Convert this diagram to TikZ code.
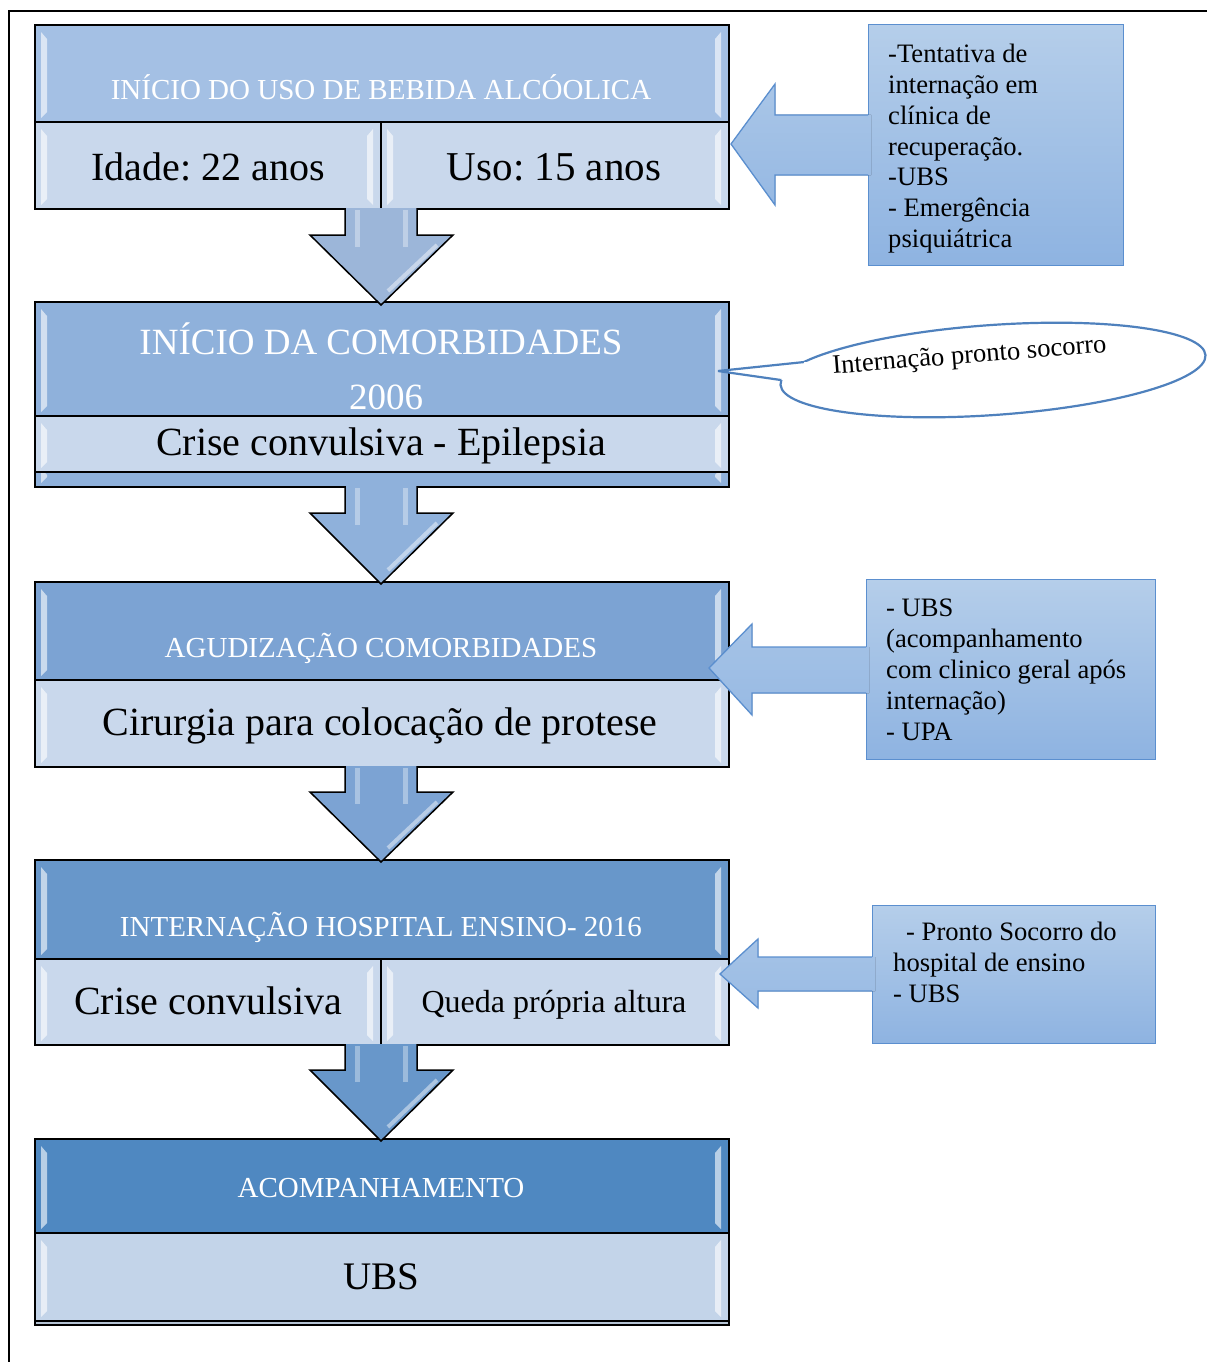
\documentclass[tikz,border=0pt]{standalone}
\usepackage{fontspec}
\setmainfont{Liberation Serif}
\usetikzlibrary{calc}
\frenchspacing
\definecolor{hA}{HTML}{A4C0E4}
\definecolor{hB}{HTML}{8FB1DB}
\definecolor{hC}{HTML}{7CA3D3}
\definecolor{hD}{HTML}{6897CA}
\definecolor{hE}{HTML}{4F88C1}
\definecolor{lowc}{HTML}{C9D8EC}
\definecolor{lowe}{HTML}{C3D4E9}
\definecolor{sidetop}{HTML}{B5CEEA}
\definecolor{sidebot}{HTML}{8EB3E1}
\definecolor{sideline}{HTML}{5B8FCF}
\definecolor{callline}{HTML}{4F81BD}
\tikzset{
  cellbox/.style={draw=black, line width=1.6pt, inner sep=0pt, anchor=north west},
  hdrtext/.style={text=white, inner sep=0pt, anchor=base, font=\fontsize{29}{34}\selectfont},
  bigtext/.style={text=black, inner sep=0pt, anchor=base, font=\fontsize{40}{46}\selectfont},
  sidebox/.style={draw=sideline, line width=1.3pt, top color=sidetop, bottom color=sidebot, inner sep=0pt, anchor=north west},
  sidetext/.style={text=black, inner sep=0pt, anchor=north west, align=left, font=\fontsize{26.6}{30.8}\selectfont},
  hilite/.style={white, opacity=0.6},
  softlite/.style={white, opacity=0.35}
}
\newcommand\mycell[6]{%
  \node[cellbox, fill=#6, minimum width={#4-#2}, minimum height={#5-#3}] (#1) at (#2,#3) {};
  \fill[hilite] (#2+7,#3+8) -- (#2+13,#3+15) -- (#2+13,#5-9) -- (#2+7,#5-3) -- cycle;
  \fill[hilite] (#4-7,#3+8) -- (#4-13,#3+15) -- (#4-13,#5-9) -- (#4-7,#5-3) -- cycle;
}
% #1 top of shaft, #2 top of head, #3 tip, #4 colour
\newcommand\downblock[4]{%
  \draw[line width=1.5pt, fill=#4, line join=miter] (345,#1) -- (345,#2) -- (310,#2) -- (381,#3) -- (453,#2) -- (417,#2) -- (417,#1);
  \fill[softlite] (355,#1+2) rectangle (360,#2+12);
  \fill[softlite] (403,#1+2) rectangle (408,#2+12);
  \draw[white, opacity=0.45, line width=4pt] (437,#2+10) -- (388,#3-14);
}
\begin{document}
\begin{tikzpicture}[x=1pt,y=-1pt]
\useasboundingbox (0,0) rectangle (1207,1362);
\fill[white] (0,0) rectangle (1207,1362);
\draw[line width=2pt] (9,1362) -- (9,11) -- (1207,11);

% ---------- box 1 ----------
\mycell{h1}{34}{24}{728}{121}{hA}
\mycell{c1a}{34}{121}{380}{208}{lowc}
\mycell{c1b}{380}{121}{728}{208}{lowc}
\node[hdrtext] (t1) at (381,100) {INÍCIO DO USO DE BEBIDA ALCÓOLICA};
\node[bigtext] (t1a) at (208,180) {Idade: 22 anos};
\node[bigtext, font=\fontsize{41}{46}\selectfont] (t1b) at (554,180) {Uso: 15 anos};

% ---------- box 2 ----------
\mycell{s2}{34}{460}{728}{486}{hB}
\mycell{h2}{34}{301}{728}{415}{hB}
\mycell{c2}{34}{415}{728}{471}{lowc}
\node[hdrtext, font=\fontsize{37}{42}\selectfont] (t2) at (381,354) {INÍCIO DA COMORBIDADES};
\node[hdrtext, font=\fontsize{37}{42}\selectfont] (t2y) at (386,409) {2006};
\node[bigtext] (t2a) at (381,455) {Crise convulsiva - Epilepsia};

% ---------- box 3 ----------
\mycell{h3}{34}{581}{728}{679}{hC}
\mycell{c3}{34}{679}{728}{766}{lowc}
\node[hdrtext] (t3) at (381,657) {AGUDIZAÇÃO COMORBIDADES};
\node[bigtext] (t3a) at (380,735) {Cirurgia para colocação de protese};

% ---------- box 4 ----------
\mycell{h4}{34}{859}{728}{958}{hD}
\mycell{c4a}{34}{958}{380}{1044}{lowc}
\mycell{c4b}{380}{958}{728}{1044}{lowc}
\node[hdrtext] (t4) at (381,936) {INTERNAÇÃO HOSPITAL ENSINO- 2016};
\node[bigtext] (t4a) at (208,1014) {Crise convulsiva};
\node[bigtext, font=\fontsize{32}{36}\selectfont] (t4b) at (554,1012) {Queda própria altura};

% ---------- box 5 ----------
\node[cellbox, fill=lowe!80!gray, minimum width=694, minimum height=8] (s5) at (34,1316) {};
\mycell{h5}{34}{1138}{728}{1232}{hE}
\mycell{c5}{34}{1232}{728}{1320}{lowe}
\node[hdrtext] (t5) at (381,1197) {ACOMPANHAMENTO};
\node[bigtext, font=\fontsize{39}{44}\selectfont] (t5a) at (381,1289) {UBS};

% ---------- block arrows down ----------
\downblock{208}{235}{305}{hA!95!black}
\downblock{486}{513}{584}{hB}
\downblock{766}{792}{862}{hC}
\downblock{1044}{1070}{1141}{hD}

% ---------- side box A ----------
\node[sidebox, minimum width=255, minimum height=241] (sa) at (868,24) {};
\fill[top color=sidetop!70!sidebot, bottom color=sidetop!20!sidebot] (871,115) -- (775,115) -- (775,84) -- (731,144) -- (775,205) -- (775,175) -- (871,175) -- cycle;
\draw[sideline, line width=1.3pt, line join=miter] (868,115) -- (775,115) -- (775,84) -- (731,144) -- (775,205) -- (775,175) -- (868,175);
\node[sidetext] (ta) at (888,44) {-Tentativa de\\internação em\\clínica de\\recuperação.\\-UBS\\- Emergência\\psiquiátrica};

% ---------- callout ----------
\begin{scope}[shift={(993,370)}, rotate=4]
  \coordinate (cc) at (0,0);
  \draw[callline, line width=2.2pt, fill=white] (0,0) ellipse [x radius=213, y radius=45];
  \coordinate (p1) at (208:213 and 45);
  \coordinate (p2) at (186:213 and 45);
\end{scope}
\coordinate (tip) at (718,371);
\fill[white] (tip) -- (p1) -- ($(p1)!12pt!(cc)$) -- ($(p2)!12pt!(cc)$) -- (p2) -- cycle;
\draw[callline, line width=2.2pt, line join=bevel] (p1) -- (tip) -- (p2);
\node[inner sep=0pt, anchor=base, rotate=4.5, font=\fontsize{26.6}{30}\selectfont] (tc) at (970,363) {Internação pronto socorro};

% ---------- side box B ----------
\node[sidebox, minimum width=289, minimum height=180] (sb) at (866,579) {};
\fill[top color=sidetop!60!sidebot, bottom color=sidetop!25!sidebot] (869,647) -- (752,647) -- (752,624) -- (709,668) -- (752,715) -- (752,693) -- (869,693) -- cycle;
\draw[sideline, line width=1.3pt, line join=miter] (866,647) -- (752,647) -- (752,624) -- (709,668) -- (752,715) -- (752,693) -- (866,693);
\node[sidetext] (tb) at (886,599) {- UBS\\(acompanhamento\\com clinico geral após\\internação)\\- UPA};

% ---------- side box C ----------
\node[sidebox, minimum width=283, minimum height=138] (sc) at (872,905) {};
\fill[top color=sidetop!60!sidebot, bottom color=sidetop!30!sidebot] (875,957) -- (758,957) -- (758,939) -- (720,974) -- (758,1008) -- (758,991) -- (875,991) -- cycle;
\draw[sideline, line width=1.3pt, line join=miter] (872,957) -- (758,957) -- (758,939) -- (720,974) -- (758,1008) -- (758,991) -- (872,991);
\node[sidetext] (tcc) at (893,922) {\hspace*{13pt}- Pronto Socorro do\\hospital de ensino\\- UBS};
\end{tikzpicture}
\end{document}
